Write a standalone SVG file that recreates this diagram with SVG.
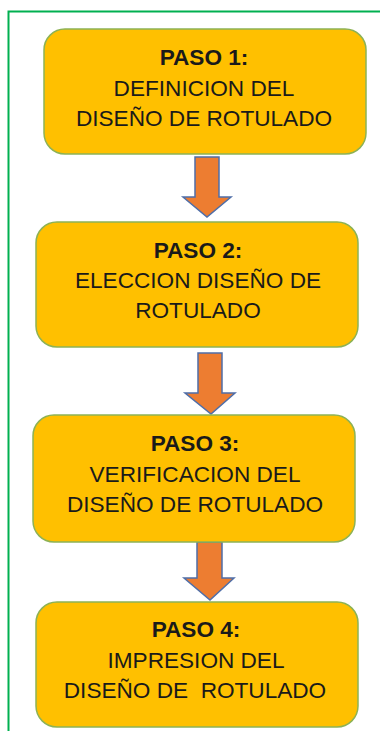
<svg xmlns="http://www.w3.org/2000/svg" width="380" height="731" viewBox="0 0 380 731">
<style>
.box{fill:#FFC000;stroke:#8DB255;stroke-width:1.5}
.arr{fill:#ED7D31;stroke:#4F6EA8;stroke-width:1.5;stroke-linejoin:miter}
.t{font-family:"Liberation Sans",Arial,sans-serif;font-size:22.6px;fill:#1a1a1a;text-anchor:middle}
.b{font-weight:bold}
.frame{fill:none;stroke:#00B050;stroke-width:2}
</style>
<rect width="380" height="731" fill="#ffffff"/>
<path class="frame" d="M8.5 731 V11.5 H380"/>
<g id="connectors">
<path class="arr" d="M195 157 H219 V197 H231 L207 217 L183 197 H195 Z"/>
<path class="arr" d="M198 353 H222 V393 H235 L211 414 L185 393 H198 Z"/>
<path class="arr" d="M197 542 H222 V578 H234 L210 600 L184 578 H197 Z"/>
</g>
<g id="paso1">
<rect class="box" x="44" y="29" width="322" height="125" rx="21"/>
<text class="t b" x="204" y="65">PASO 1:</text>
<text class="t" x="204" y="96">DEFINICION DEL</text>
<text class="t" x="204" y="126">DISEÑO DE ROTULADO</text>
</g>
<g id="paso2">
<rect class="box" x="36" y="222" width="322" height="125" rx="21"/>
<text class="t b" x="198" y="258">PASO 2:</text>
<text class="t" x="198" y="288">ELECCION DISEÑO DE</text>
<text class="t" x="198" y="318">ROTULADO</text>
</g>
<g id="paso3">
<rect class="box" x="33" y="415" width="322" height="127" rx="21"/>
<text class="t b" x="195" y="451">PASO 3:</text>
<text class="t" x="195" y="482">VERIFICACION DEL</text>
<text class="t" x="195" y="512">DISEÑO DE ROTULADO</text>
</g>
<g id="paso4">
<rect class="box" x="36" y="602" width="322" height="125" rx="21"/>
<text class="t b" x="196" y="637">PASO 4:</text>
<text class="t" x="196" y="668">IMPRESION DEL</text>
<text class="t" x="195" y="698" xml:space="preserve" style="white-space:pre">DISEÑO DE  ROTULADO</text>
</g>
</svg>
